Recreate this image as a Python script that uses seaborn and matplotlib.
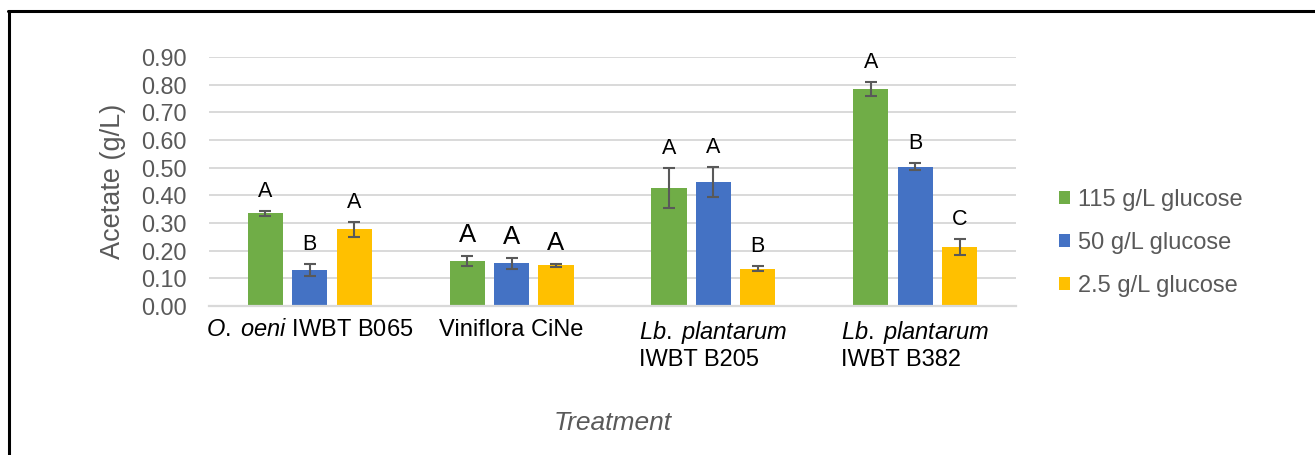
import matplotlib
matplotlib.use("Agg")
import matplotlib.pyplot as plt
import matplotlib.patches as mpatches
from matplotlib.container import BarContainer
import numpy as np
import pandas as pd
import seaborn as sns

# ---- data -------------------------------------------------------------
treatments = [
    r"$\it{O.\;oeni}$ IWBT B065",
    "Viniflora CiNe",
    "$\\it{Lb.\\;plantarum}$\nIWBT B205",
    "$\\it{Lb.\\;plantarum}$\nIWBT B382",
]
series = ["115 g/L glucose", "50 g/L glucose", "2.5 g/L glucose"]

acetate_115 = [0.335, 0.163, 0.427, 0.783]
acetate_50 = [0.130, 0.155, 0.449, 0.504]
acetate_2_5 = [0.277, 0.147, 0.134, 0.214]

err_115 = [0.010, 0.018, 0.073, 0.025]
err_50 = [0.022, 0.020, 0.054, 0.013]
err_2_5 = [0.027, 0.006, 0.009, 0.029]

letters_115 = ["A", "A", "A", "A"]
letters_50 = ["B", "A", "A", "B"]
letters_2_5 = ["A", "A", "B", "C"]

yticks = [0.0, 0.1, 0.2, 0.3, 0.4, 0.5, 0.6, 0.7, 0.8, 0.9]

# ---- styling ------------------------------------------------------------
colors = ["#70AD47", "#4472C4", "#FFC000"]
text_grey = "#595959"
grid_grey = "#D9D9D9"
letter_size = [15.5, 18.5, 15.5, 15.5]

sns.set_theme(style="white")
plt.rcParams["font.family"] = ["Liberation Sans", "DejaVu Sans"]
plt.rcParams["mathtext.fontset"] = "custom"
plt.rcParams["mathtext.rm"] = "Liberation Sans"
plt.rcParams["mathtext.it"] = "Liberation Sans:italic"

means = [acetate_115, acetate_50, acetate_2_5]
errs = [err_115, err_50, err_2_5]
letters = [letters_115, letters_50, letters_2_5]

df = pd.DataFrame({
    "Treatment": np.tile(treatments, len(series)),
    "Glucose": np.repeat(series, len(treatments)),
    "Acetate": np.concatenate(means),
})

fig = plt.figure(figsize=(13.15, 4.55), dpi=100)
ax = fig.add_axes([209 / 1315, 1 - 306 / 455, (1016 - 209) / 1315, (306 - 57) / 455])

sns.barplot(
    data=df, x="Treatment", y="Acetate", hue="Glucose",
    order=treatments, hue_order=series, palette=colors,
    width=0.66, gap=0.21, errorbar=None, legend=False, ax=ax,
    saturation=1, linewidth=0,
)

# error bars and significance letters on every bar
bar_groups = [c for c in ax.containers if isinstance(c, BarContainer)]
for s_idx, container in enumerate(bar_groups):
    for c_idx, patch in enumerate(container.patches):
        xc = patch.get_x() + patch.get_width() / 2
        m = means[s_idx][c_idx]
        e = errs[s_idx][c_idx]
        ax.errorbar(xc, m, yerr=e, fmt="none", ecolor=text_grey,
                    elinewidth=1.5, capsize=4.3, capthick=1.5, zorder=3)
        ax.annotate(letters[s_idx][c_idx], (xc, m + e),
                    xytext=(0, 6.5), textcoords="offset points",
                    ha="center", va="bottom", fontsize=letter_size[c_idx],
                    color="black")

ax.set_ylim(0, 0.9)
ax.set_xlim(-0.5, len(treatments) - 0.5)
ax.set_yticks(yticks)
ax.set_yticklabels([f"{v:.2f}" for v in yticks])
ax.yaxis.grid(True, color=grid_grey, linewidth=1.4)
ax.set_axisbelow(True)
for side in ["top", "right", "left"]:
    ax.spines[side].set_visible(False)
ax.spines["bottom"].set_color(grid_grey)
ax.spines["bottom"].set_linewidth(1.6)

ax.tick_params(axis="y", length=0, pad=16, labelsize=16.8, labelcolor=text_grey)
ax.tick_params(axis="x", length=0, pad=9, labelsize=17, labelcolor="black")
for lbl in ax.get_xticklabels():
    lbl.set_multialignment("left")

ax.set_ylabel("Acetate (g/L)", fontsize=19.5, color=text_grey, labelpad=11)
ax.set_xlabel("Treatment", fontsize=19, color=text_grey, style="italic")
ax.xaxis.set_label_coords(0.5, -0.42)

handles = [mpatches.Patch(facecolor=c, edgecolor="none") for c in colors]
fig.legend(handles, series, loc="center left",
           bbox_to_anchor=(1059 / 1315, 1 - 243 / 455),
           frameon=False, fontsize=17, labelcolor=text_grey,
           handlelength=0.45, handleheight=0.45, handletextpad=0.35,
           labelspacing=0.88, borderpad=0, borderaxespad=0)

# frame around the figure (open on the right and bottom edges)
fig.add_artist(plt.Line2D([9 / 1315, 9 / 1315], [0, 1 - 11 / 455],
                          transform=fig.transFigure, color="black", linewidth=2.2))
fig.add_artist(plt.Line2D([8.2 / 1315, 1], [1 - 11 / 455, 1 - 11 / 455],
                          transform=fig.transFigure, color="black", linewidth=2.2))

fig.savefig("out.png", dpi=100)
